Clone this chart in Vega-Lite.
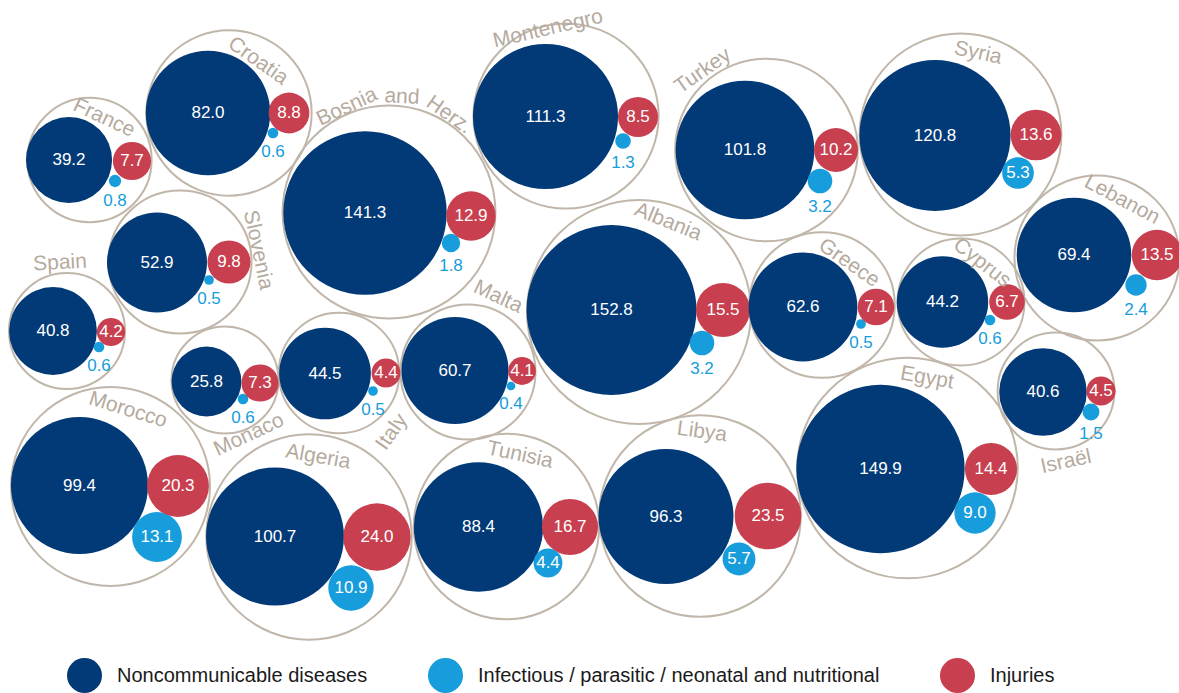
{
  "$schema": "https://vega.github.io/schema/vega-lite/v6.json",
  "width": 1179,
  "height": 693,
  "autosize": "none",
  "padding": 0,
  "background": "white",
  "config": {"view": {"stroke": null}, "font": "Liberation Sans"},
  "datasets": {
    "circles": [
      {"country": "France", "cause": "Noncommunicable diseases", "value": 39.2, "x": 69, "y": 160},
      {"country": "France", "cause": "Infectious / parasitic / neonatal and nutritional", "value": 0.8, "x": 115, "y": 181},
      {"country": "France", "cause": "Injuries", "value": 7.7, "x": 132, "y": 161},
      {"country": "Croatia", "cause": "Noncommunicable diseases", "value": 82.0, "x": 208, "y": 113},
      {"country": "Croatia", "cause": "Infectious / parasitic / neonatal and nutritional", "value": 0.6, "x": 273, "y": 133},
      {"country": "Croatia", "cause": "Injuries", "value": 8.8, "x": 289, "y": 113},
      {"country": "Bosnia and Herz.", "cause": "Noncommunicable diseases", "value": 141.3, "x": 365, "y": 213},
      {"country": "Bosnia and Herz.", "cause": "Infectious / parasitic / neonatal and nutritional", "value": 1.8, "x": 451, "y": 243},
      {"country": "Bosnia and Herz.", "cause": "Injuries", "value": 12.9, "x": 471, "y": 216},
      {"country": "Montenegro", "cause": "Noncommunicable diseases", "value": 111.3, "x": 545.5, "y": 116.5},
      {"country": "Montenegro", "cause": "Infectious / parasitic / neonatal and nutritional", "value": 1.3, "x": 623, "y": 141},
      {"country": "Montenegro", "cause": "Injuries", "value": 8.5, "x": 638, "y": 117},
      {"country": "Turkey", "cause": "Noncommunicable diseases", "value": 101.8, "x": 745, "y": 150},
      {"country": "Turkey", "cause": "Infectious / parasitic / neonatal and nutritional", "value": 3.2, "x": 820, "y": 181},
      {"country": "Turkey", "cause": "Injuries", "value": 10.2, "x": 836, "y": 150},
      {"country": "Syria", "cause": "Noncommunicable diseases", "value": 120.8, "x": 935, "y": 135.5},
      {"country": "Syria", "cause": "Infectious / parasitic / neonatal and nutritional", "value": 5.3, "x": 1018, "y": 173},
      {"country": "Syria", "cause": "Injuries", "value": 13.6, "x": 1036, "y": 135},
      {"country": "Slovenia", "cause": "Noncommunicable diseases", "value": 52.9, "x": 157, "y": 262.5},
      {"country": "Slovenia", "cause": "Infectious / parasitic / neonatal and nutritional", "value": 0.5, "x": 209, "y": 280},
      {"country": "Slovenia", "cause": "Injuries", "value": 9.8, "x": 229, "y": 262},
      {"country": "Spain", "cause": "Noncommunicable diseases", "value": 40.8, "x": 53, "y": 331},
      {"country": "Spain", "cause": "Infectious / parasitic / neonatal and nutritional", "value": 0.6, "x": 99, "y": 347},
      {"country": "Spain", "cause": "Injuries", "value": 4.2, "x": 111, "y": 332},
      {"country": "Monaco", "cause": "Noncommunicable diseases", "value": 25.8, "x": 206.5, "y": 381.5},
      {"country": "Monaco", "cause": "Infectious / parasitic / neonatal and nutritional", "value": 0.6, "x": 243, "y": 399},
      {"country": "Monaco", "cause": "Injuries", "value": 7.3, "x": 260, "y": 383},
      {"country": "Italy", "cause": "Noncommunicable diseases", "value": 44.5, "x": 325, "y": 373.5},
      {"country": "Italy", "cause": "Infectious / parasitic / neonatal and nutritional", "value": 0.5, "x": 373, "y": 391},
      {"country": "Italy", "cause": "Injuries", "value": 4.4, "x": 386, "y": 373},
      {"country": "Malta", "cause": "Noncommunicable diseases", "value": 60.7, "x": 455, "y": 370.5},
      {"country": "Malta", "cause": "Infectious / parasitic / neonatal and nutritional", "value": 0.4, "x": 511, "y": 386},
      {"country": "Malta", "cause": "Injuries", "value": 4.1, "x": 522, "y": 371},
      {"country": "Albania", "cause": "Noncommunicable diseases", "value": 152.8, "x": 611.5, "y": 310},
      {"country": "Albania", "cause": "Infectious / parasitic / neonatal and nutritional", "value": 3.2, "x": 702, "y": 343},
      {"country": "Albania", "cause": "Injuries", "value": 15.5, "x": 723, "y": 310},
      {"country": "Greece", "cause": "Noncommunicable diseases", "value": 62.6, "x": 803, "y": 307},
      {"country": "Greece", "cause": "Infectious / parasitic / neonatal and nutritional", "value": 0.5, "x": 861, "y": 324},
      {"country": "Greece", "cause": "Injuries", "value": 7.1, "x": 876, "y": 307},
      {"country": "Cyprus", "cause": "Noncommunicable diseases", "value": 44.2, "x": 942.5, "y": 302},
      {"country": "Cyprus", "cause": "Infectious / parasitic / neonatal and nutritional", "value": 0.6, "x": 990, "y": 320},
      {"country": "Cyprus", "cause": "Injuries", "value": 6.7, "x": 1007, "y": 302},
      {"country": "Lebanon", "cause": "Noncommunicable diseases", "value": 69.4, "x": 1074, "y": 255},
      {"country": "Lebanon", "cause": "Infectious / parasitic / neonatal and nutritional", "value": 2.4, "x": 1136, "y": 285},
      {"country": "Lebanon", "cause": "Injuries", "value": 13.5, "x": 1157, "y": 255},
      {"country": "Israël", "cause": "Noncommunicable diseases", "value": 40.6, "x": 1043, "y": 392},
      {"country": "Israël", "cause": "Infectious / parasitic / neonatal and nutritional", "value": 1.5, "x": 1091, "y": 412},
      {"country": "Israël", "cause": "Injuries", "value": 4.5, "x": 1101, "y": 391},
      {"country": "Morocco", "cause": "Noncommunicable diseases", "value": 99.4, "x": 79.5, "y": 485.5},
      {"country": "Morocco", "cause": "Infectious / parasitic / neonatal and nutritional", "value": 13.1, "x": 157, "y": 537},
      {"country": "Morocco", "cause": "Injuries", "value": 20.3, "x": 178, "y": 486},
      {"country": "Algeria", "cause": "Noncommunicable diseases", "value": 100.7, "x": 275, "y": 536.5},
      {"country": "Algeria", "cause": "Infectious / parasitic / neonatal and nutritional", "value": 10.9, "x": 351, "y": 588},
      {"country": "Algeria", "cause": "Injuries", "value": 24.0, "x": 377, "y": 537},
      {"country": "Tunisia", "cause": "Noncommunicable diseases", "value": 88.4, "x": 478.5, "y": 527},
      {"country": "Tunisia", "cause": "Infectious / parasitic / neonatal and nutritional", "value": 4.4, "x": 548, "y": 563},
      {"country": "Tunisia", "cause": "Injuries", "value": 16.7, "x": 570, "y": 527},
      {"country": "Libya", "cause": "Noncommunicable diseases", "value": 96.3, "x": 666, "y": 516.5},
      {"country": "Libya", "cause": "Infectious / parasitic / neonatal and nutritional", "value": 5.7, "x": 739, "y": 559},
      {"country": "Libya", "cause": "Injuries", "value": 23.5, "x": 768, "y": 516},
      {"country": "Egypt", "cause": "Noncommunicable diseases", "value": 149.9, "x": 880.5, "y": 469},
      {"country": "Egypt", "cause": "Infectious / parasitic / neonatal and nutritional", "value": 9.0, "x": 975, "y": 513},
      {"country": "Egypt", "cause": "Injuries", "value": 14.4, "x": 991, "y": 469}
    ],
    "countries": [
      {"country": "France", "x": 89.5, "y": 160},
      {"country": "Croatia", "x": 229, "y": 113},
      {"country": "Bosnia and Herz.", "x": 389, "y": 212},
      {"country": "Montenegro", "x": 566, "y": 116},
      {"country": "Turkey", "x": 766.5, "y": 150},
      {"country": "Syria", "x": 960.5, "y": 134.5},
      {"country": "Slovenia", "x": 180, "y": 262},
      {"country": "Spain", "x": 67, "y": 331},
      {"country": "Monaco", "x": 225, "y": 380},
      {"country": "Italy", "x": 339, "y": 373},
      {"country": "Malta", "x": 468, "y": 372},
      {"country": "Albania", "x": 639, "y": 312},
      {"country": "Greece", "x": 822, "y": 305},
      {"country": "Cyprus", "x": 961, "y": 302},
      {"country": "Lebanon", "x": 1097, "y": 258},
      {"country": "Israël", "x": 1056, "y": 391},
      {"country": "Morocco", "x": 110.5, "y": 486.5},
      {"country": "Algeria", "x": 309, "y": 537},
      {"country": "Tunisia", "x": 506.5, "y": 526.5},
      {"country": "Libya", "x": 700, "y": 516},
      {"country": "Egypt", "x": 907.5, "y": 468}
    ],
    "labels": [
      {"name": "France", "x": 104, "y": 118, "angle": 25},
      {"name": "Croatia", "x": 258, "y": 61, "angle": 35},
      {"name": "Bosnia", "x": 347, "y": 107, "angle": -25},
      {"name": "and", "x": 402, "y": 97, "angle": 3},
      {"name": "Herz.", "x": 449, "y": 115, "angle": 35},
      {"name": "Montenegro", "x": 548, "y": 29, "angle": -13},
      {"name": "Turkey", "x": 703, "y": 71, "angle": -35},
      {"name": "Syria", "x": 978, "y": 53, "angle": 12},
      {"name": "Lebanon", "x": 1122, "y": 200, "angle": 28},
      {"name": "Slovenia", "x": 258, "y": 250, "angle": 78},
      {"name": "Spain", "x": 60, "y": 263, "angle": -3},
      {"name": "Monaco", "x": 249, "y": 435, "angle": -25},
      {"name": "Italy", "x": 392, "y": 432, "angle": -55},
      {"name": "Malta", "x": 498, "y": 297, "angle": 25},
      {"name": "Albania", "x": 668, "y": 222, "angle": 22},
      {"name": "Greece", "x": 849, "y": 263, "angle": 35},
      {"name": "Cyprus", "x": 982, "y": 263, "angle": 38},
      {"name": "Israël", "x": 1066, "y": 462, "angle": -12},
      {"name": "Morocco", "x": 128, "y": 410, "angle": 17},
      {"name": "Algeria", "x": 318, "y": 457, "angle": 10},
      {"name": "Tunisia", "x": 520, "y": 455, "angle": 12},
      {"name": "Libya", "x": 702, "y": 432, "angle": 8},
      {"name": "Egypt", "x": 927, "y": 378, "angle": 10}
    ]
  },
  "layer": [
    {
      "data": {"name": "circles"},
      "transform": [
        {"filter": "datum.cause !== 'Infectious / parasitic / neonatal and nutritional'"},
        {"calculate": "sqrt(datum.value)", "as": "rv"},
        {"aggregate": [{"op": "sum", "field": "rv", "as": "srv"}], "groupby": ["country"]},
        {"calculate": "datum.srv * datum.srv", "as": "span"},
        {"lookup": "country", "from": {"data": {"name": "countries"}, "key": "country", "fields": ["x", "y"]}}
      ],
      "mark": {"type": "circle", "filled": false, "stroke": "#c1b6aa", "strokeWidth": 2, "opacity": 1},
      "encoding": {
        "x": {"field": "x", "type": "quantitative", "scale": {"domain": [0, 1179], "nice": false, "zero": false}, "axis": null},
        "y": {"field": "y", "type": "quantitative", "scale": {"domain": [0, 693], "reverse": true, "nice": false, "zero": false}, "axis": null},
        "size": {"field": "span", "type": "quantitative", "scale": {"domain": [0, 300], "range": [0, 56730]}, "legend": null}
      }
    },
    {
      "data": {"name": "circles"},
      "mark": {"type": "circle", "opacity": 1},
      "encoding": {
        "x": {"field": "x", "type": "quantitative", "scale": {"domain": [0, 1179], "nice": false, "zero": false}, "axis": null},
        "y": {"field": "y", "type": "quantitative", "scale": {"domain": [0, 693], "reverse": true, "nice": false, "zero": false}, "axis": null},
        "size": {"field": "value", "type": "quantitative", "scale": {"domain": [0, 300], "range": [0, 56730]}, "legend": null},
        "color": {
          "field": "cause",
          "type": "nominal",
          "scale": {
            "domain": ["Noncommunicable diseases", "Infectious / parasitic / neonatal and nutritional", "Injuries"],
            "range": ["#023a78", "#179ddb", "#c8404f"]
          },
          "legend": {
            "orient": "none",
            "legendX": 67,
            "legendY": 658,
            "direction": "horizontal",
            "title": null,
            "symbolType": "circle",
            "symbolSize": 1225,
            "symbolStrokeWidth": 0,
            "symbolOpacity": 1,
            "labelFont": "Liberation Sans",
            "labelFontSize": 20,
            "labelColor": "#1a1a1a",
            "labelOffset": 15,
            "labelLimit": 700,
            "columnPadding": 60
          }
        }
      }
    },
    {
      "data": {"name": "circles"},
      "transform": [
        {"filter": "datum.cause !== 'Infectious / parasitic / neonatal and nutritional' || datum.value > 4"}
      ],
      "mark": {"type": "text", "color": "white", "font": "Liberation Sans", "fontSize": 17, "align": "center", "baseline": "middle"},
      "encoding": {
        "x": {"field": "x", "type": "quantitative", "scale": {"domain": [0, 1179], "nice": false, "zero": false}, "axis": null},
        "y": {"field": "y", "type": "quantitative", "scale": {"domain": [0, 693], "reverse": true, "nice": false, "zero": false}, "axis": null},
        "text": {"field": "value", "type": "quantitative", "format": ".1f"}
      }
    },
    {
      "data": {"name": "circles"},
      "transform": [
        {"filter": "datum.cause === 'Infectious / parasitic / neonatal and nutritional' && datum.value <= 4"},
        {"calculate": "datum.y + sqrt(datum.value * 189.1) / 2 + 6", "as": "ly"}
      ],
      "mark": {"type": "text", "color": "#179ddb", "font": "Liberation Sans", "fontSize": 17, "align": "center", "baseline": "top"},
      "encoding": {
        "x": {"field": "x", "type": "quantitative", "scale": {"domain": [0, 1179], "nice": false, "zero": false}, "axis": null},
        "y": {"field": "ly", "type": "quantitative", "scale": {"domain": [0, 693], "reverse": true, "nice": false, "zero": false}, "axis": null},
        "text": {"field": "value", "type": "quantitative", "format": ".1f"}
      }
    },
    {
      "data": {"name": "labels"},
      "mark": {"type": "text", "color": "#b5aa9e", "font": "Liberation Sans", "fontSize": 21, "align": "center", "baseline": "middle"},
      "encoding": {
        "x": {"field": "x", "type": "quantitative", "scale": {"domain": [0, 1179], "nice": false, "zero": false}, "axis": null},
        "y": {"field": "y", "type": "quantitative", "scale": {"domain": [0, 693], "reverse": true, "nice": false, "zero": false}, "axis": null},
        "text": {"field": "name", "type": "nominal"},
        "angle": {"field": "angle", "type": "quantitative", "scale": null}
      }
    }
  ]
}
